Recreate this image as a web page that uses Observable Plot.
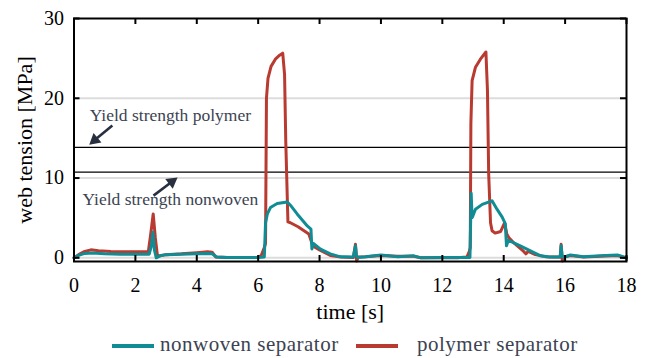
<!DOCTYPE html>
<html>
<head>
<meta charset="utf-8">
<script src="https://cdn.jsdelivr.net/npm/d3@7"></script>
<script src="https://cdn.jsdelivr.net/npm/@observablehq/plot@0.6"></script>
<style>
  body { margin: 0; background: #fff; font-family: "Liberation Serif", "Times New Roman", serif; }
  #wrap { width: 646px; }
  #wrap svg text { font-family: "Liberation Serif", "Times New Roman", serif !important; }
  #legend { position: relative; width: 646px; height: 33px; font-size: 21px; color: #3c4352; letter-spacing: 0.5px; font-family: "Liberation Serif", "Times New Roman", serif; }
  #legend .sw { position: absolute; height: 4px; top: 19px; }
  #legend .lb { position: absolute; top: 7px; line-height: 24px; white-space: nowrap; }
</style>
</head>
<body>
<div id="wrap"></div>
<script>
const nonwovenTime = [0, 0.15, 0.35, 0.6, 1.0, 1.5, 2.0, 2.45, 2.52, 2.57, 2.62, 2.68, 2.8, 3.0, 3.5, 4.0, 4.35, 4.5, 4.65, 5.0, 5.5, 6.0, 6.2, 6.24, 6.3, 6.4, 6.62, 6.95, 7.05, 7.27, 7.6, 7.72, 7.75, 7.8, 8.03, 8.35, 8.68, 9.1, 9.17, 9.2, 9.24, 9.5, 10.0, 10.55, 11.07, 11.3, 12.0, 12.5, 12.9, 12.94, 12.97, 13.0, 13.08, 13.3, 13.62, 13.78, 13.95, 14.05, 14.09, 14.15, 14.54, 14.87, 15.2, 15.5, 15.84, 15.87, 15.9, 15.95, 16.17, 16.6, 17.15, 17.7, 17.97, 18];
const nonwovenTension = [0, 0.3, 0.55, 0.6, 0.5, 0.45, 0.45, 0.45, 1.5, 3.2, 1.0, 0.0, 0.25, 0.4, 0.45, 0.5, 0.55, 0.5, 0.1, 0.05, 0.05, 0.05, 0.1, 4.4, 5.5, 6.3, 6.8, 7.0, 6.6, 5.5, 4.0, 3.6, 1.1, 1.8, 1.1, 0.5, 0.12, 0.1, 1.5, 0.3, 0.05, 0.13, 0.35, 0.15, 0.25, 0.0, 0.05, 0.05, 0.05, 8.1, 5.05, 5.3, 6.1, 6.7, 7.15, 6.1, 5.1, 4.3, 1.5, 2.2, 1.5, 0.88, 0.25, 0.1, 0.1, 1.5, 0.3, 0.05, 0.35, 0.13, 0.25, 0.35, 0.05, 0.05];

const polymerTime = [0, 0.15, 0.35, 0.55, 0.8, 1.2, 2.0, 2.42, 2.5, 2.58, 2.65, 2.72, 2.85, 3.0, 3.5, 4.0, 4.35, 4.5, 4.62, 5.0, 5.5, 6.0, 6.1, 6.2, 6.24, 6.27, 6.32, 6.42, 6.56, 6.7, 6.8, 6.86, 6.9, 6.97, 7.05, 7.3, 7.65, 7.72, 7.78, 8.0, 8.35, 8.7, 9.1, 9.17, 9.21, 9.26, 9.5, 10.0, 10.55, 11.07, 11.3, 12.0, 12.5, 12.8, 12.88, 12.91, 12.93, 12.97, 13.08, 13.24, 13.42, 13.47, 13.51, 13.57, 13.62, 13.72, 13.9, 14.03, 14.1, 14.17, 14.35, 14.5, 14.65, 14.72, 14.8, 15.03, 15.35, 15.6, 15.84, 15.87, 15.91, 15.96, 16.17, 16.6, 17.15, 17.7, 17.97, 18];
const polymerTension = [0, 0.4, 0.8, 1.0, 0.9, 0.8, 0.75, 0.75, 3.0, 5.5, 2.5, 0.2, 0.3, 0.4, 0.5, 0.65, 0.75, 0.7, 0.1, 0.05, 0.05, 0.05, 0.3, 1.3, 1.8, 20.0, 22.5, 24.0, 24.9, 25.4, 25.65, 23.0, 14.5, 4.5, 4.4, 3.9, 3.0, 2.2, 1.5, 1.0, 0.3, 0.1, 0.05, 1.7, -0.4, 0.1, 0.15, 0.3, 0.2, 0.2, 0.0, 0.0, 0.0, 0.1, 0.8, 1.3, 16.8, 22.2, 23.9, 24.9, 25.8, 21.0, 10.5, 4.4, 3.4, 3.1, 3.3, 4.4, 3.0, 2.5, 1.8, 1.3, 0.8, 0.5, 0.8, 0.4, 0.15, 0.1, 0.1, 1.7, -0.4, 0.1, 0.3, 0.1, 0.2, 0.3, 0.0, 0.0];

const xTicks = [0, 2, 4, 6, 8, 10, 12, 14, 16, 18];
const yTicks = [0, 10, 20, 30];
const gridLevels = [0, 10, 20];
const yieldLevels = [13.85, 10.75];
const noteLabels = ["Yield strength polymer", "Yield strength nonwoven"];
const noteX = [3.14, 3.14];
const noteY = [17.8, 7.35];
const arrowX1 = [1.25, 2.59];
const arrowY1 = [16.6, 7.8];
const arrowX2 = [0.5, 3.37];
const arrowY2 = [14.2, 10.07];
const seriesNames = ["nonwoven separator", "polymer separator"];
const seriesColors = ["#108c95", "#b83a30"];

const W = 646, H = 325, mL = 73.5, mR = 20, mT = 18, mB = 64;
const xDomain = [0, 18];
const yDomain = [-0.46, 30];
const pxPerX = (W - mL - mR) / (xDomain[1] - xDomain[0]);
const pxPerY = (H - mT - mB) / (yDomain[1] - yDomain[0]);
const xTickLen = 6 / pxPerY; // 6px inward, in y units
const yTickLen = 6 / pxPerX; // 6px inward, in x units

const nonwoven = nonwovenTime.map((t, i) => ({t, v: nonwovenTension[i]}));
const polymer = polymerTime.map((t, i) => ({t, v: polymerTension[i]}));
const notes = noteLabels.map((label, i) => ({label, x: noteX[i], y: noteY[i]}));
const headBack = 7; // px from tip to triangle centre
const arrows = arrowX1.map((x1, i) => {
  const x2 = arrowX2[i], y1 = arrowY1[i], y2 = arrowY2[i];
  const dxp = (x2 - x1) * pxPerX, dyp = -(y2 - y1) * pxPerY;
  const len = Math.hypot(dxp, dyp), ux = dxp / len, uy = dyp / len;
  return {
    x1, y1, x2, y2,
    hx: x2 - ux * headBack / pxPerX,
    hy: y2 + uy * headBack / pxPerY,
    angle: Math.atan2(ux, -uy) * 180 / Math.PI
  };
});

const chart = Plot.plot({
  width: W,
  height: H,
  marginLeft: mL,
  marginRight: mR,
  marginTop: mT,
  marginBottom: mB,
  style: {fontFamily: "'Liberation Serif', 'Times New Roman', serif", background: "#fff", overflow: "visible"},
  x: {domain: xDomain},
  y: {domain: yDomain},
  marks: [
    Plot.ruleY(gridLevels, {stroke: "#dcdcdc", strokeWidth: 2}),
    Plot.ruleY(yieldLevels, {stroke: "#000", strokeWidth: 1.3}),
    Plot.line(polymer, {x: "t", y: "v", stroke: seriesColors[1], strokeWidth: 3, strokeLinejoin: "round"}),
    Plot.line(nonwoven, {x: "t", y: "v", stroke: seriesColors[0], strokeWidth: 3, strokeLinejoin: "round"}),
    Plot.link(arrows, {x1: "x1", y1: "y1", x2: "hx", y2: "hy", stroke: "#283040", strokeWidth: 2.6}),
    Plot.dot(arrows, {x: "hx", y: "hy", symbol: "triangle", r: 4.6, rotate: "angle", fill: "#283040", stroke: "none"}),
    Plot.text(notes, {x: "x", y: "y", text: "label", fontSize: 17.5, fill: "#3c4352"}),
    Plot.axisX(xTicks, {anchor: "bottom", tickSize: 0, tickPadding: 16, fontSize: 20, fill: "#000", label: null}),
    Plot.axisY(yTicks, {anchor: "left", tickSize: 0, tickPadding: 10, fontSize: 20, fill: "#000", label: null}),
    Plot.ruleX(xTicks, {y1: yDomain[0], y2: yDomain[0] + xTickLen, stroke: "#000", strokeWidth: 2}),
    Plot.ruleX(xTicks, {y1: yDomain[1], y2: yDomain[1] - xTickLen, stroke: "#000", strokeWidth: 2}),
    Plot.ruleY(yTicks, {x1: xDomain[0], x2: xDomain[0] + yTickLen, stroke: "#000", strokeWidth: 2}),
    Plot.ruleY(yTicks, {x1: xDomain[1], x2: xDomain[1] - yTickLen, stroke: "#000", strokeWidth: 2}),
    Plot.frame({stroke: "#000", strokeWidth: 2}),
    Plot.text(["time [s]"], {frameAnchor: "bottom", lineAnchor: "middle", textAnchor: "middle", dy: 50, fontSize: 22, fill: "#000"}),
    Plot.text(["web tension [MPa]"], {frameAnchor: "left", lineAnchor: "middle", textAnchor: "middle", dx: -49, rotate: -90, fontSize: 22, fill: "#000"})
  ]
});

const wrap = document.getElementById("wrap");
wrap.appendChild(chart);

const legend = document.createElement("div");
legend.id = "legend";
const swLeft = [112, 356];
const lbLeft = [160, 417];
seriesNames.forEach((name, i) => {
  const sw = document.createElement("div");
  sw.className = "sw";
  sw.style.left = swLeft[i] + "px";
  sw.style.width = "42px";
  sw.style.background = seriesColors[i];
  legend.appendChild(sw);
  const lb = document.createElement("div");
  lb.className = "lb";
  lb.style.left = lbLeft[i] + "px";
  lb.textContent = name;
  legend.appendChild(lb);
});
wrap.appendChild(legend);
</script>
</body>
</html>
